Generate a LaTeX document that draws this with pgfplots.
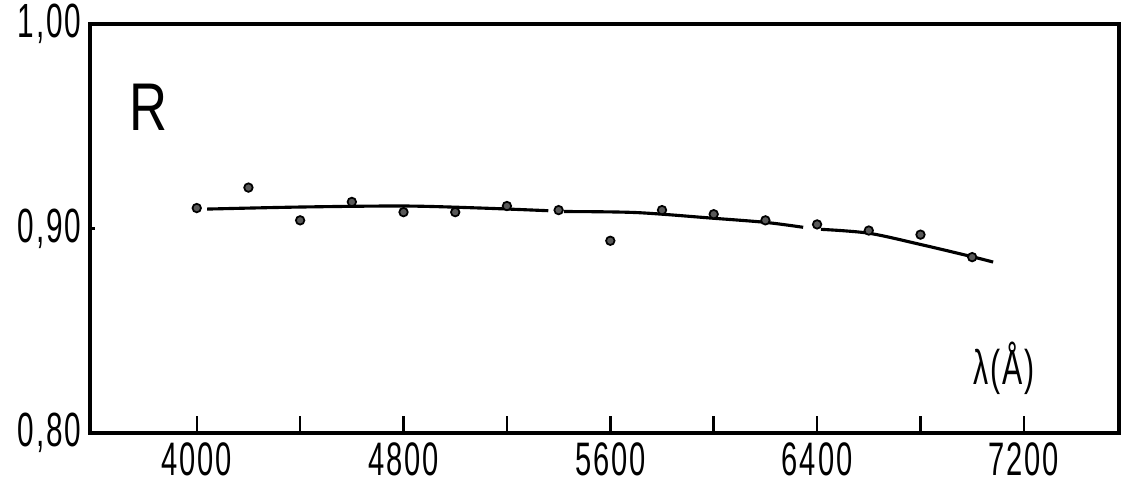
\documentclass[border=0pt]{standalone}
\usepackage{fontspec}
\setmainfont[FakeStretch=0.62, LetterSpace=4]{Liberation Sans}
\newfontfamily\rfont[FakeStretch=0.78]{Liberation Sans}
\usepackage{pgfplots}
\pgfplotsset{compat=1.18}
\begin{document}
\begin{tikzpicture}
\useasboundingbox (-36pt,-20.4pt) rectangle (414pt,173.2pt);
\begin{axis}[
  at={(0pt,0pt)}, anchor=south west, scale only axis,
  width=411.6pt, height=163.6pt,
  xmin=3587, xmax=7568, ymin=0.8, ymax=1.0,
  axis line style={line width=1.35pt, black},
  tick align=inside,
  xtick={4000,4800,5600,6400,7200},
  minor xtick={4400,5200,6000,6800},
  xtick pos=bottom, ytick pos=left,
  ytick={0.8,0.9,1.0},
  major tick length=6.8pt, minor tick length=6.8pt,
  ytick style={/pgfplots/major tick length=2pt},
  tick style={line width=1pt, black},
  xticklabel style={font=\fontsize{18.8}{21}\selectfont, inner sep=0pt, yshift=-3.6pt, /pgf/number format/1000 sep={}},
  yticklabel style={font=\fontsize{19.2}{22}\selectfont, inner sep=0pt, xshift=-3.2pt, /pgf/number format/.cd, fixed, fixed zerofill, precision=2, use comma},
  /pgf/number format/assume math mode=true,
  clip=false,
]
\addplot[smooth, line width=1.25pt, no marks, black] coordinates {(4040,0.9095)(4400,0.9105)(4800,0.9110)(5100,0.9100)(5360,0.9087)};
\addplot[smooth, line width=1.25pt, no marks, black] coordinates {(5420,0.9083)(5700,0.9078)(6000,0.9050)(6200,0.9030)(6346,0.9006)};
\addplot[smooth, line width=1.25pt, no marks, black] coordinates {(6415,0.8996)(6600,0.8977)(6800,0.8922)(7000,0.8862)(7081,0.8836)};
\addplot[only marks, mark=*, mark size=1.7pt, mark options={fill=black!65, draw=black, line width=0.7pt}] coordinates {
(4000,0.910)(4200,0.920)(4400,0.904)(4600,0.913)(4800,0.908)(5000,0.908)(5200,0.911)(5400,0.909)(5600,0.894)(5800,0.909)(6000,0.907)(6200,0.904)(6400,0.902)(6600,0.899)(6800,0.897)(7000,0.886)};
\node[font=\rfont\fontsize{27}{30}\selectfont, inner sep=0pt] at (axis cs:3815,0.9592) {R};
\node[font=\fontsize{19.5}{22}\selectfont, inner sep=0pt, anchor=base] at (axis cs:7123,0.8235) {λ(Å)};
\end{axis}
\end{tikzpicture}
\end{document}
